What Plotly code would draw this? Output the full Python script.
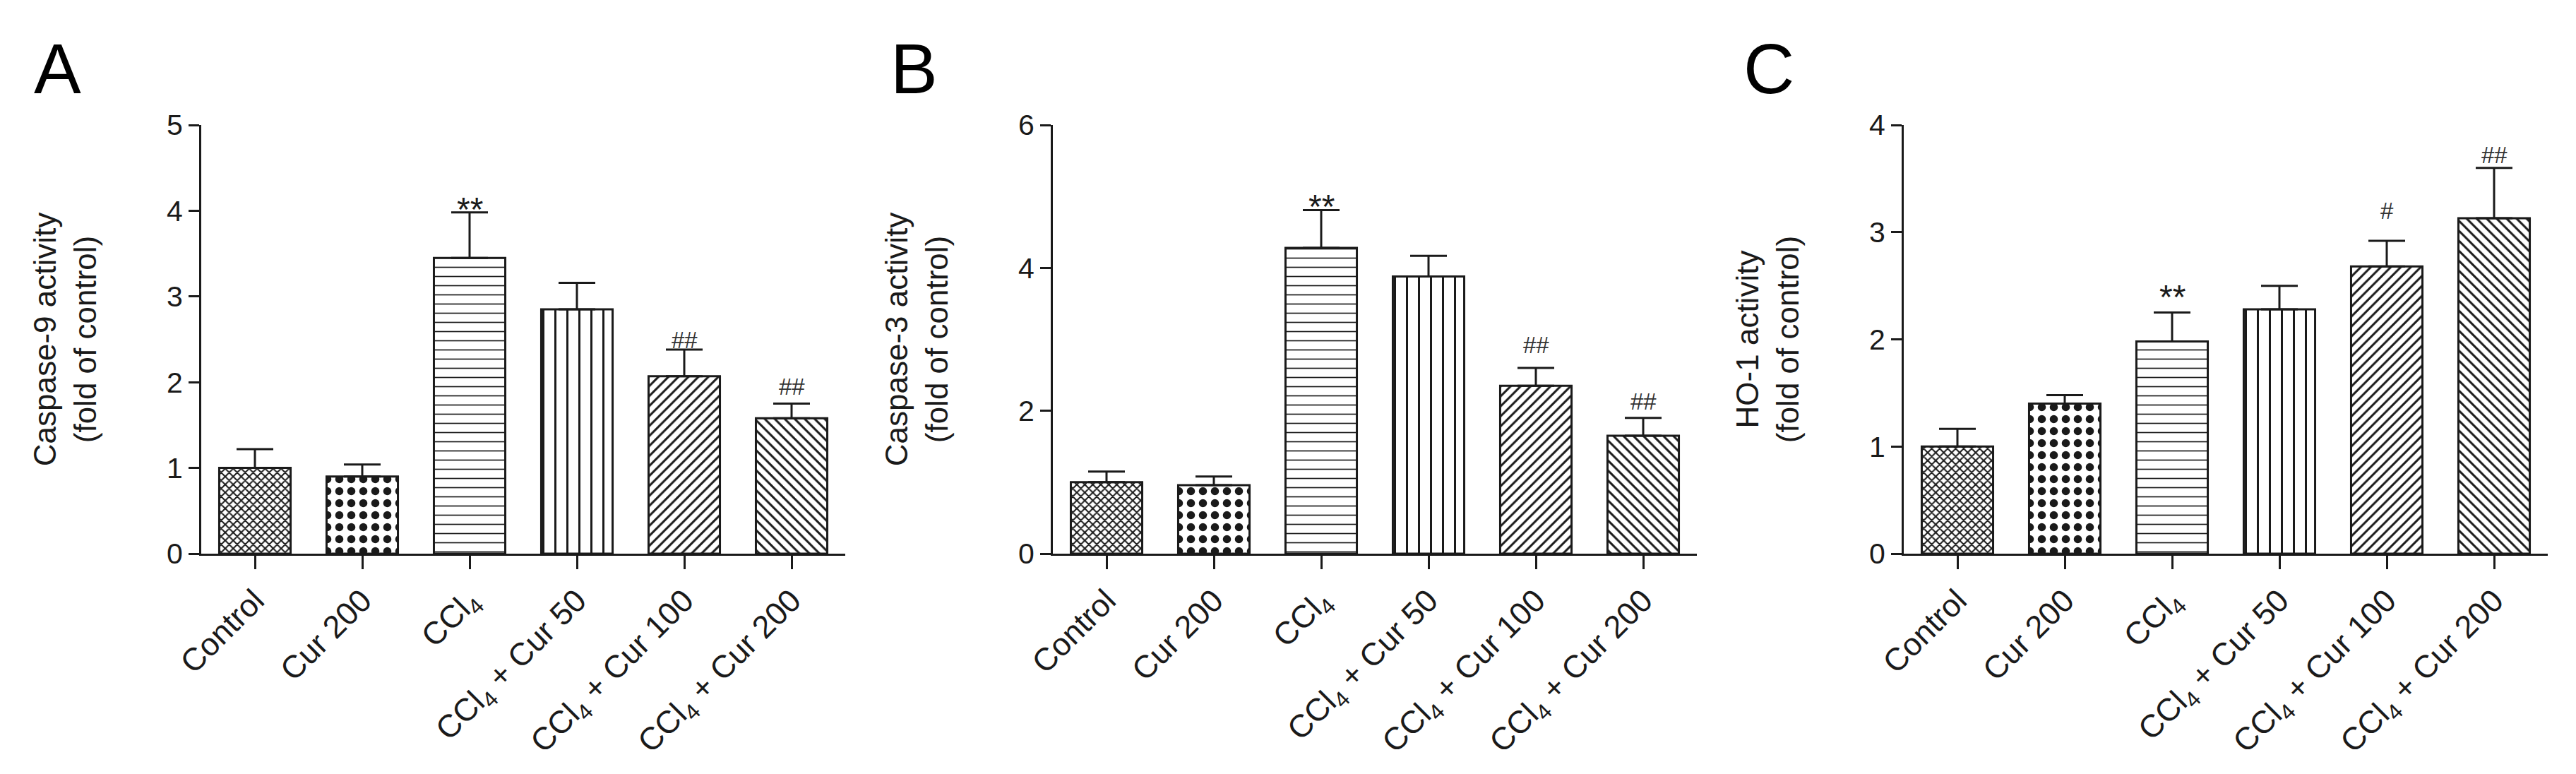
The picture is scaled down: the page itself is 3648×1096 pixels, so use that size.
import plotly.graph_objects as go

# group labels (x categories)
groups = ["Control", "Cur 200", "CCl<sub>4</sub>", "CCl<sub>4</sub> + Cur 50",
          "CCl<sub>4</sub> + Cur 100", "CCl<sub>4</sub> + Cur 200"]

# panel A: caspase-9
casp9_mean = [1.00, 0.90, 3.45, 2.85, 2.07, 1.58]
casp9_err = [0.22, 0.14, 0.53, 0.31, 0.31, 0.17]
casp9_marks = ["", "", "**", "", "##", "##"]

# panel B: caspase-3
casp3_mean = [1.00, 0.96, 4.28, 3.88, 2.35, 1.65]
casp3_err = [0.15, 0.12, 0.53, 0.29, 0.25, 0.25]
casp3_marks = ["", "", "**", "", "##", "##"]

# panel C: HO-1
ho1_mean = [1.00, 1.40, 1.98, 2.28, 2.68, 3.13]
ho1_err = [0.165, 0.08, 0.27, 0.22, 0.24, 0.47]
ho1_marks = ["", "", "**", "", "#", "##"]

FONT = "Arial, Liberation Sans, Helvetica, sans-serif"
INK = "#1a1a1a"

# fill patterns, one per group
pat_shape = ["x", ".", "-", "|", "/", "\\"]
pat_size = [8, 17, 13, 17, 10, 10]
pat_solid = [0.45, 0.36, 0.13, 0.18, 0.3, 0.3]

panels = [
    dict(letter="A", mean=casp9_mean, err=casp9_err, marks=casp9_marks,
         shifts=[0, 0, -24, 0, -7, 4], ymax=5, dtick=1,
         title="Caspase-9 activity<br>(fold of control)",
         dom=[277 / 3648, 1189 / 3648], lx=38 / 3648),
    dict(letter="B", mean=casp3_mean, err=casp3_err, marks=casp3_marks,
         shifts=[0, 0, -24, 0, 12, 3], ymax=6, dtick=2,
         title="Caspase-3 activity<br>(fold of control)",
         dom=[1483 / 3648, 2395 / 3648], lx=1251 / 3648),
    dict(letter="C", mean=ho1_mean, err=ho1_err, marks=ho1_marks,
         shifts=[0, 0, -6, 0, 22, -2], ymax=4, dtick=1,
         title="HO-1 activity<br>(fold of control)",
         dom=[2688 / 3648, 3600 / 3648], lx=2459 / 3648),
]

fig = go.Figure()
annotations = []
ydom = [(1096 - 776) / 1096, (1096 - 169) / 1096]

for i, p in enumerate(panels):
    n = "" if i == 0 else str(i + 1)
    fig.add_trace(go.Bar(
        x=groups,
        y=p["mean"],
        xaxis="x" + n,
        yaxis="y" + n,
        width=0.665,
        marker=dict(
            color="white",
            line=dict(color=INK, width=3),
            pattern=dict(shape=pat_shape, size=pat_size, solidity=pat_solid,
                         fgcolor=INK, bgcolor="white", fillmode="replace"),
        ),
        error_y=dict(type="data", symmetric=False, array=p["err"],
                     arrayminus=[0] * len(p["err"]), color=INK,
                     thickness=3, width=26),
        showlegend=False,
        hoverinfo="skip",
    ))

    axis_common = dict(showline=True, linecolor=INK, linewidth=3,
                       showgrid=False, zeroline=False, ticks="outside",
                       tickcolor=INK, tickwidth=3, automargin=False,
                       tickfont=dict(family=FONT, size=41, color=INK))
    fig.update_layout(**{
        "xaxis" + n: dict(axis_common, domain=p["dom"], anchor="y" + n,
                          range=[-0.5, 5.5], ticklen=19, tickangle=-45,
                          tickfont=dict(family=FONT, size=45, color=INK)),
        "yaxis" + n: dict(axis_common, domain=ydom, anchor="x" + n,
                          range=[0, p["ymax"]], dtick=p["dtick"], ticklen=15,
                          title=dict(text=p["title"], standoff=86,
                                     font=dict(family=FONT, size=44, color=INK))),
    })

    # significance marks above error bars
    for g, m, e, txt, sh in zip(groups, p["mean"], p["err"], p["marks"], p["shifts"]):
        if not txt:
            continue
        star = txt.startswith("*")
        annotations.append(dict(
            x=g, y=m + e, xref="x" + n, yref="y" + n,
            text=txt, showarrow=False, yanchor="bottom", yshift=sh,
            font=dict(family=FONT, size=48 if star else 33,
                      color=INK if star else "#333333"),
        ))

    # panel letter
    annotations.append(dict(
        x=p["lx"], y=1 - 31 / 1096, xref="paper", yref="paper",
        text=p["letter"], showarrow=False, xanchor="left", yanchor="top",
        font=dict(family=FONT, size=100, color="black"),
    ))

fig.update_layout(
    width=3648,
    height=1096,
    margin=dict(l=0, r=0, t=0, b=0),
    paper_bgcolor="white",
    plot_bgcolor="white",
    annotations=annotations,
)

fig.write_html("out.html")
